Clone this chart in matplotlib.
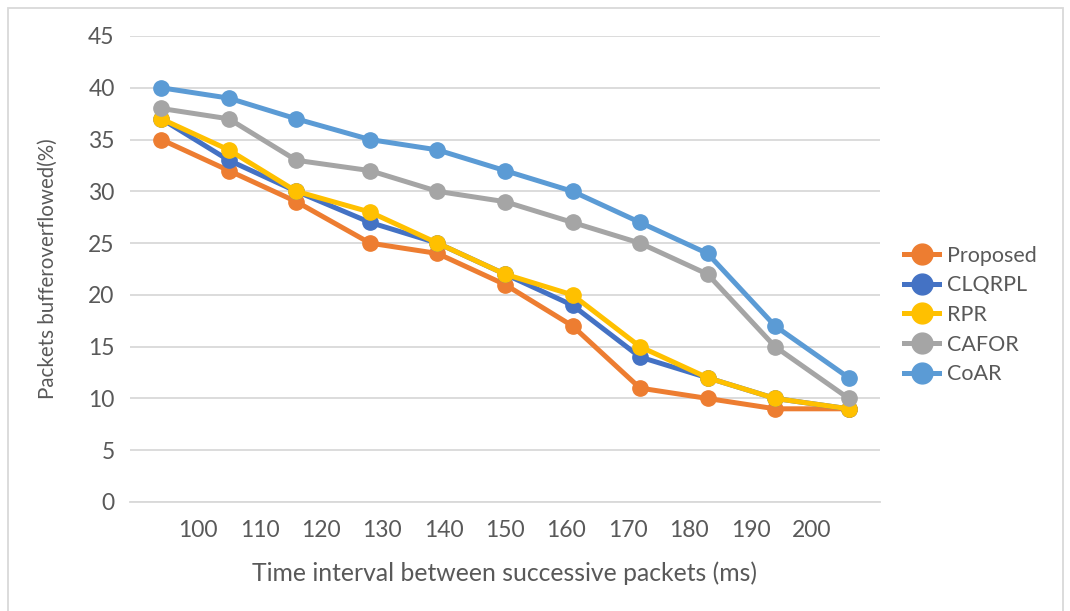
import matplotlib.pyplot as plt
from matplotlib.lines import Line2D

# x positions of the points, in the same units as the tick labels
x_ms = [94, 105, 116, 128, 139, 150, 161, 172, 183, 194, 206]
tick_vals = [100, 110, 120, 130, 140, 150, 160, 170, 180, 190, 200]

proposed = [35, 32, 29, 25, 24, 21, 17, 11, 10, 9, 9]
clqrpl = [37, 33, 30, 27, 25, 22, 19, 14, 12, 10, 9]
rpr = [37, 34, 30, 28, 25, 22, 20, 15, 12, 10, 9]
cafor = [38, 37, 33, 32, 30, 29, 27, 25, 22, 15, 10]
coar = [40, 39, 37, 35, 34, 32, 30, 27, 24, 17, 12]

names = ["Proposed", "CLQRPL", "RPR", "CAFOR", "CoAR"]
colors = ["#ED7D31", "#4472C4", "#FFC000", "#A5A5A5", "#5B9BD5"]

plt.rcParams["font.family"] = ["Lato", "DejaVu Sans"]
txt = "#595959"

fig = plt.figure(figsize=(10.7, 6.11), dpi=100)
ax = fig.add_axes([130 / 1070, 1 - 502 / 611, 750 / 1070, 466 / 611])

for ys, name, c in zip([proposed, clqrpl, rpr, cafor, coar], names, colors):
    ax.plot(x_ms, ys, color=c, lw=3.6, marker="o", ms=11, label=name,
            solid_capstyle="round", zorder=3)

ax.set_xlim(88.9, 211.1)
ax.set_ylim(0, 45)
ax.set_yticks(range(0, 46, 5))
ax.set_xticks(tick_vals)
ax.grid(axis="y", color="#D9D9D9", lw=1.3)
ax.set_axisbelow(True)
for s in ["top", "right", "left"]:
    ax.spines[s].set_visible(False)
ax.spines["bottom"].set_color("#D9D9D9")
ax.spines["bottom"].set_linewidth(1.3)
ax.tick_params(length=0, labelsize=16.5, colors=txt)
ax.tick_params(axis="y", pad=11)
ax.tick_params(axis="x", pad=13)

ax.set_xlabel("Time interval between successive packets (ms)", fontsize=17.8,
              color=txt, labelpad=15)
ax.set_ylabel("Packets bufferoverflowed(%)", fontsize=14.8, color=txt,
              labelpad=22)

handles = [Line2D([0], [0], color=c, lw=3.6, marker="o", ms=15) for c in colors]
fig.legend(handles, names, loc="center left", bbox_to_anchor=(885 / 1070, 1 - 315 / 611),
           frameon=False, fontsize=15.5, labelcolor=txt, handlelength=1.6,
           handletextpad=0.4, labelspacing=0.45)

# light frame around the chart
fig.add_artist(plt.Rectangle((8 / 1070, -0.01), 1055 / 1070, 1 - 8 / 611 + 0.01,
                             transform=fig.transFigure, fill=False,
                             edgecolor="#D9D9D9", lw=1.3))

fig.savefig("out.png", dpi=100, facecolor="white")
